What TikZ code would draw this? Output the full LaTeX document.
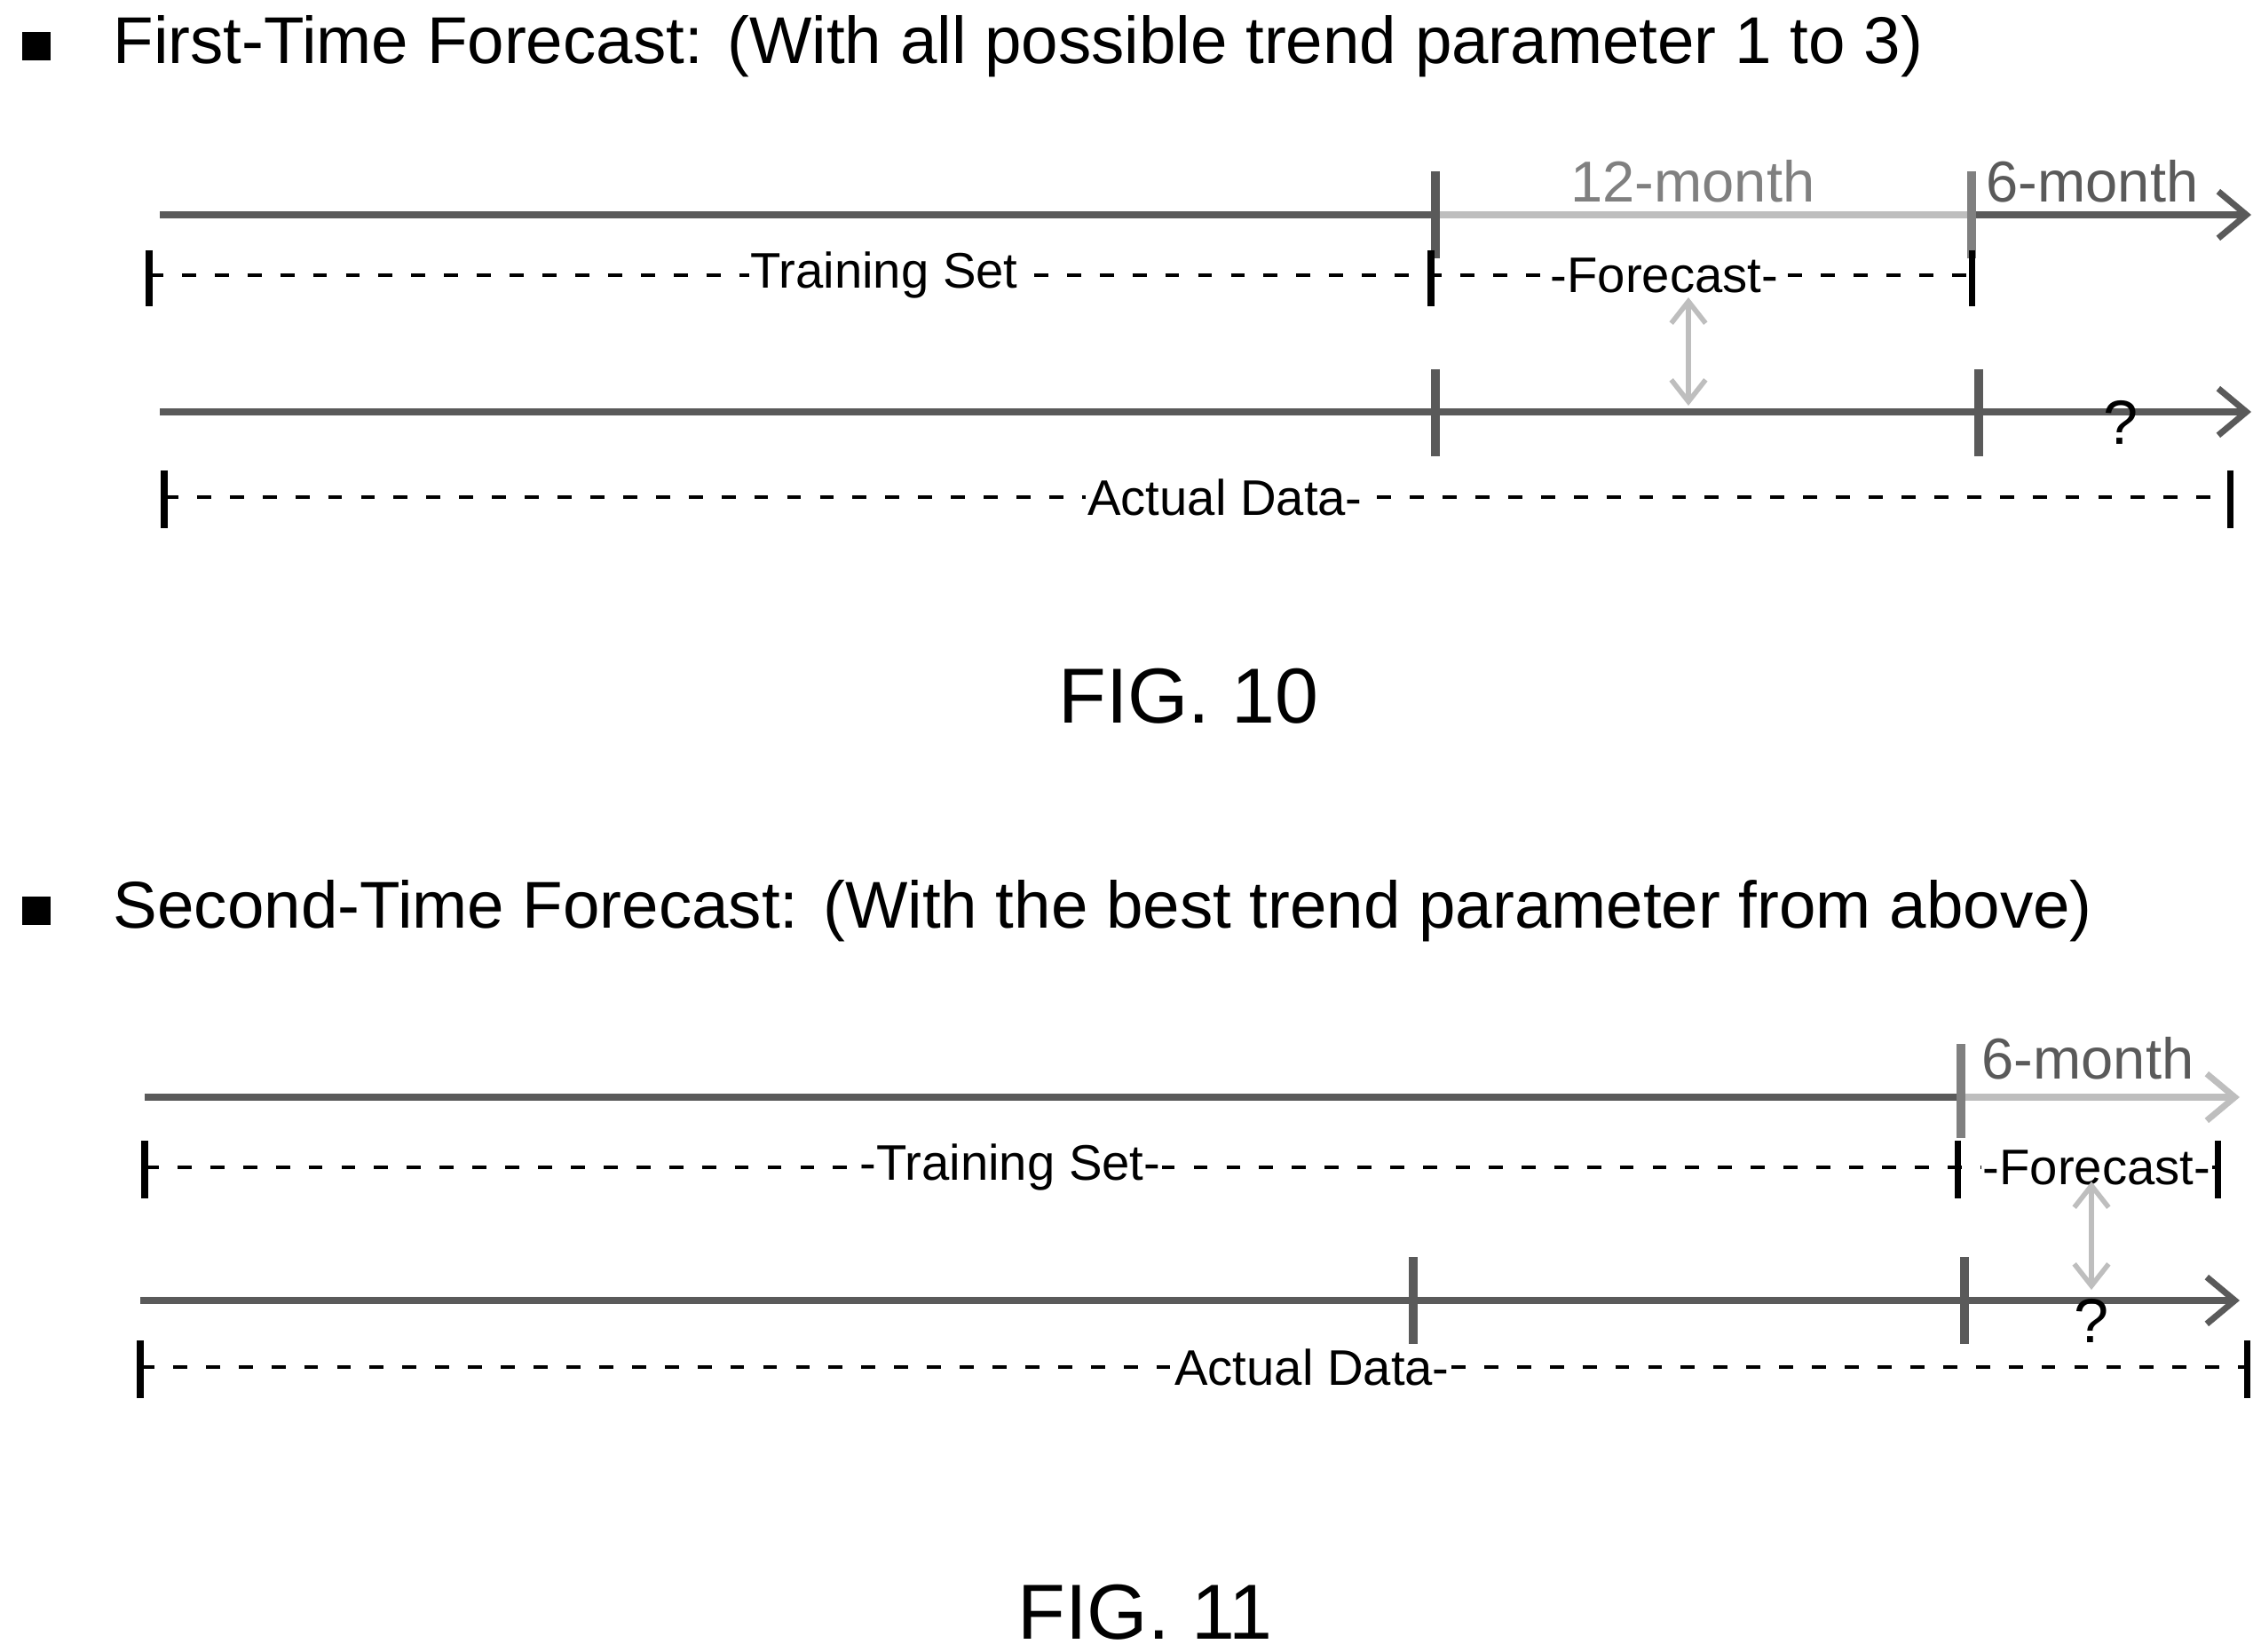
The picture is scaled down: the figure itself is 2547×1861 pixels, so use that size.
\documentclass[tikz,border=0pt]{standalone}
\usepackage{fontspec}
\setmainfont{Liberation Sans}
\usetikzlibrary{arrows.meta}
\usetikzlibrary{positioning}
\definecolor{darkline}{RGB}{90,90,90}
\definecolor{lightline}{RGB}{190,190,190}

\begin{document}
\begin{tikzpicture}[x=0.01cm,y=-0.01cm,>={Straight Barb[length=9pt,width=15pt,line width=2pt]},
    main line/.style={line width=2.4pt,color=darkline},
    light line/.style={line width=2.4pt,color=lightline},
    tick/.style={line width=3pt,color=darkline},
    span/.style={dashed,dash pattern=on 4.5pt off 6pt,line width=0.9pt},
    span end/.style={line width=2pt},
    title node/.style={anchor=west,font=\fontsize{21.2}{25}\selectfont,inner sep=0pt},
    span node/.style={fill=white,font=\fontsize{16}{19}\selectfont,inner sep=0.5pt},
    period node/.style={font=\fontsize{18.5}{22}\selectfont,inner sep=0pt},
    fig node/.style={font=\fontsize{25}{30}\selectfont}]
   \useasboundingbox (0,0) rectangle (2547,1861);
   % FIG. 10
   \begin{scope}
     \node[fill=black,minimum size=0.32cm,inner sep=0pt] (b1) at (41,52) {};
     \node[title node] (t1) at (127,52) {First-Time Forecast: (With all possible trend parameter 1 to 3)};
     \coordinate (a1) at (180,242);
     \coordinate (a2) at (1617,242);
     \coordinate (a3) at (2221,242);
     \coordinate (a4) at (2536,242);
     \draw[main line] (a1) -- (a2);
     \draw[light line] (a2) -- (a3);
     \draw[main line,->] (a3) -- (a4);
     \draw[tick] (1617,193) -- (1617,291);
     \draw[tick,color=gray] (2221,193) -- (2221,291);
     \node[period node,text=gray] (m12) at (1907,204) {12-month};
     \node[period node,text=darkline] (m6) at (2357,204) {6-month};
     \draw[span] (168,310) -- (2221,310);
     \draw[span end] (168,282) -- (168,345);
     \draw[span end] (1612,282) -- (1612,345);
     \draw[span end] (2221,282) -- (2221,345);
     \node[span node] (tr1) at (996,310) {Training Set};
     \node[span node] (fc1) at (1875,310) {-Forecast-};
     \coordinate (c1) at (180,464);
     \coordinate (c2) at (2536,464);
     \draw[main line,->] (c1) -- (c2);
     \draw[tick] (1617,416) -- (1617,514);
     \draw[tick] (2229,416) -- (2229,514);
     \node[font=\fontsize{20}{24}\selectfont] (q1) at (2389,476) {?};
     \draw[<->,line width=1.6pt,color=lightline,>={Straight Barb[length=7pt,width=11pt,line width=1.6pt]}] (1902,335) -- (1902,457);
     \draw[span] (185,560) -- (2512,560);
     \draw[span end] (185,530) -- (185,595);
     \draw[span end] (2512,530) -- (2512,595);
     \node[span node] (ad1) at (1380,560) {Actual Data-};
     \node[fig node] (f10) at (1339,784) {FIG. 10};
   \end{scope}
   % FIG. 11
   \begin{scope}
     \node[fill=black,minimum size=0.32cm,inner sep=0pt] (b2) at (41,1026) {};
     \node[title node] (t2) at (127,1026) {Second-Time Forecast: (With the best trend parameter from above)};
     \coordinate (d1) at (163,1236);
     \coordinate (d2) at (2209,1236);
     \coordinate (d3) at (2523,1236);
     \draw[main line] (d1) -- (d2);
     \draw[light line,->] (d2) -- (d3);
     \draw[tick,color=gray] (2209,1176) -- (2209,1282);
     \node[period node,text=darkline] (m6b) at (2352,1192) {6-month};
     \draw[span] (163,1315) -- (2498,1315);
     \draw[span end] (163,1285) -- (163,1350);
     \draw[span end] (2205,1285) -- (2205,1350);
     \node[span node] (tr2) at (1138,1315) {-Training Set-};
     \node[span node] (fc2) at (2362,1315) {-Forecast-};
     \draw[span end] (2498,1285) -- (2498,1350);
     \coordinate (e1) at (158,1465);
     \coordinate (e2) at (2523,1465);
     \draw[main line,->] (e1) -- (e2);
     \draw[tick] (1592,1416) -- (1592,1514);
     \draw[tick] (2213,1416) -- (2213,1514);
     \node[font=\fontsize{20}{24}\selectfont] (q2) at (2356,1488) {?};
     \draw[<->,line width=1.6pt,color=lightline,>={Straight Barb[length=7pt,width=11pt,line width=1.6pt]}] (2356,1331) -- (2356,1453);
     \draw[span] (158,1540) -- (2531,1540);
     \draw[span end] (158,1510) -- (158,1575);
     \draw[span end] (2531,1510) -- (2531,1575);
     \node[span node] (ad2) at (1478,1540) {Actual Data-};
     \node[fig node] (f11) at (1290,1816) {FIG. 11};
   \end{scope}
\end{tikzpicture}
\end{document}
